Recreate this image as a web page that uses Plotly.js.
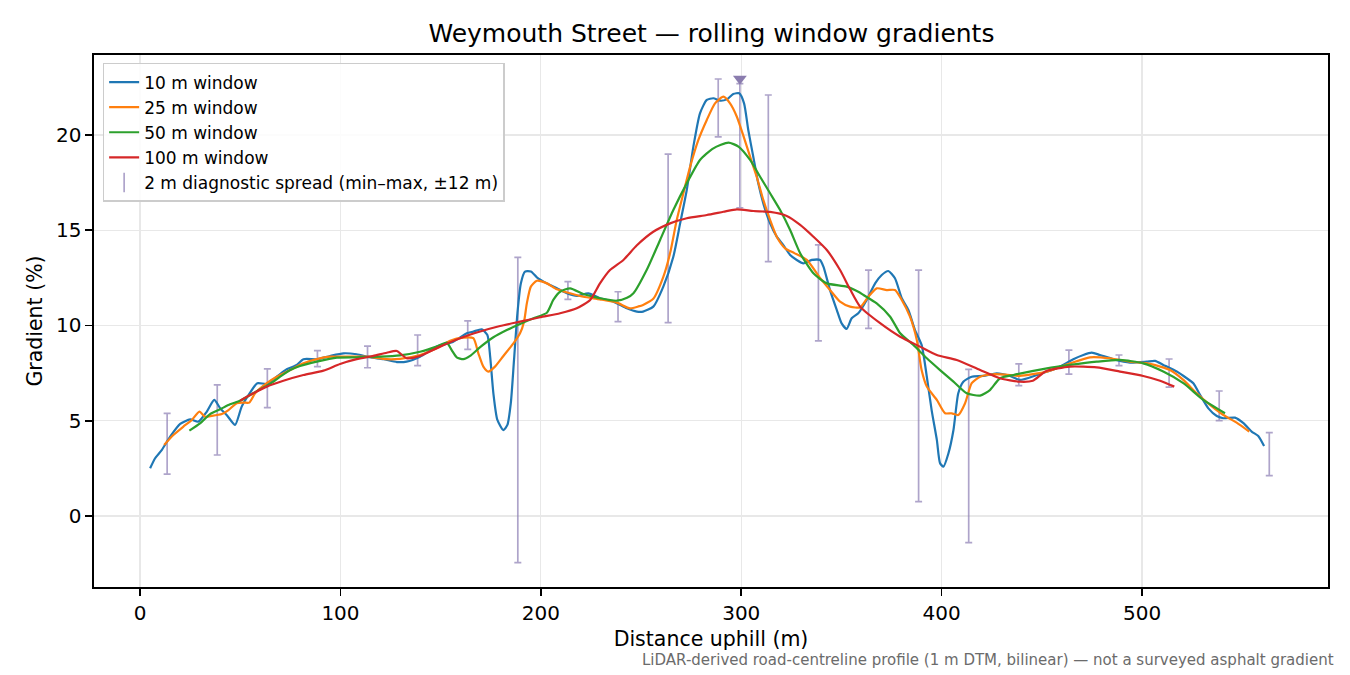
<!DOCTYPE html>
<html>
<head>
<meta charset="utf-8">
<script src="https://cdn.plot.ly/plotly-3.0.1.min.js"></script>
<style>
   html, body { margin: 0; padding: 0; background: #fff; }
   #canvas { width: 1350px; height: 675px; }
</style>
</head>
<body>
<div id="canvas"></div>
<script>

// ---------------------- data ----------------------

const dist10 = [5, 7.5, 10.8, 15, 20, 25, 29, 33.3, 37, 40, 43.6, 47.4, 50.7, 54.9, 58.5, 63.2, 68.2, 73.2, 78.2, 81.5,
   88.2, 94.8, 101.5, 108.1, 114.8, 121.4, 128.1, 133, 139.7, 148, 156.3, 163, 166.3, 170.5, 173.3, 174.7, 176.3, 178.3,
   181.3, 183.3, 185, 186.6, 188.3, 190, 192.1, 195, 198, 203, 208, 213, 218, 223.7, 229.5, 236.2, 242.9, 247.9, 251,
   256.1, 261.1, 266.1, 269.5, 272.8, 276.1, 279.4, 282.8, 286.1, 289.4, 292.8, 296, 299, 301.4, 303.5, 306, 308.5,
   311, 314.4, 317.7, 321, 324.4, 327.7, 331, 335.2, 339.3, 341, 344.3, 347.7, 350.1, 352.6, 355.1, 358.4, 362.6,
   366.8, 370.1, 373.4, 376.7, 380.1, 383.4, 386.7, 390, 392.6, 395, 397.6, 399.2, 400.9, 403.4, 405.9, 408.3, 410.8,
   415, 420.8, 427.5, 434.1, 439, 447.5, 457.4, 465.7, 470.7, 474.9, 479, 485.7, 494, 502.3, 506.5, 510.6, 517.3,
   522.3, 525.6, 529, 533.1, 537.3, 540.6, 546.4, 550.6, 554.7, 558, 560.9];
const grad10 = [2.5, 3.03, 3.46, 4.16, 4.83, 5.07, 4.95, 5.48, 6.09, 5.65, 5.25, 4.78, 5.74, 6.47, 6.97, 6.93, 7.31, 7.7, 7.93, 8.23,
   8.23, 8.4, 8.54, 8.49, 8.33, 8.23, 8.08, 8.1, 8.36, 8.89, 9.15, 9.59, 9.68, 9.8, 9.5, 8.36, 6.44, 5.04,
   4.51, 4.78, 5.92, 8.19, 10.64, 12.21, 12.83, 12.83, 12.53, 12.21, 11.95, 11.69, 11.55, 11.69, 11.43, 11.25, 10.9, 10.73, 10.73,
   10.99, 12.04, 13.61, 15.36, 17.11, 19.39, 21.14, 21.84, 21.93, 21.8, 21.87, 22.15, 22.19, 21.66, 20.26, 18.86, 17.46,
   16.41, 15.36, 14.66, 14.22, 13.7, 13.44, 13.26, 13.44, 13.44, 13.09, 11.86, 10.81, 10.11, 9.82, 10.38, 10.64, 11.34,
   12.21, 12.65, 12.86, 12.48, 11.43, 10.81, 9.76, 8.98, 7.31, 5.56, 3.99, 2.77, 2.59, 3.29, 4.51, 6.44, 7.05,
   7.31, 7.35, 7.49, 7.35, 7.14, 7.4, 7.75, 8.23, 8.45, 8.57, 8.45, 8.23, 8.05, 8.1, 8.14, 7.93, 7.58,
   7.23, 6.97, 6.35, 5.65, 5.25, 5.13, 5.16, 4.87, 4.43, 4.2, 3.67];

const dist25 = [12, 16.6, 21.6, 25.8, 29.6, 32.4, 35.8, 40.8, 44.1, 48.2, 51.6, 54.5, 57.4, 63.2, 68.2, 74.9, 81.5, 88.2, 94.8,
   103.1, 113.1, 123.1, 129.7, 139.7, 148, 154.7, 161.3, 166.3, 168.8, 171.3, 173.8, 177.1, 181.3, 186.3, 189.6, 191.6,
   193, 195, 198, 203, 208, 214.6, 221.2, 229.5, 237.9, 244.5, 248.7, 251, 256.1, 261.1, 264.5, 267.8, 271.1, 274.5,
   278.6, 282.8, 286.9, 291.1, 294.4, 297.8, 301.2, 304.4, 307.7, 311, 314.4, 317.7, 321.9, 326.5, 332.7, 339.3, 344.3,
   349.3, 354.3, 359.3, 363.4, 367.6, 372.6, 376.7, 380.1, 384.2, 387.6, 390, 392.6, 397.6, 401.7, 405, 408.3, 411.7,
   415, 419.2, 425.8, 434.1, 439, 452.5, 464.1, 474, 484, 494, 504, 514, 520.6, 527.3, 533.9, 540.6, 547.2, 553.5];
const grad25 = [3.73, 4.25, 4.69, 5.04, 5.48, 5.21, 5.25, 5.35, 5.56, 5.92, 5.95, 5.95, 6.44, 6.97, 7.31, 7.66, 8.01, 8.23, 8.36,
   8.36, 8.36, 8.23, 8.25, 8.45, 8.8, 9.2, 9.36, 9.33, 8.54, 7.84, 7.58, 7.84, 8.4, 9.06, 9.59, 10.2,
   11.16, 12.04, 12.35, 12.21, 11.9, 11.69, 11.51, 11.37, 11.2, 10.9, 11.0, 11.08, 11.4, 12.55, 13.8, 15.54, 16.94, 18.34,
   19.74, 20.79, 21.66, 22.01, 21.66, 20.96, 19.91, 18.86, 17.81, 16.59, 15.54, 14.66, 14.05, 13.8, 13.44, 12.5, 11.86,
   11.25, 10.99, 10.95, 11.51, 11.95, 11.86, 11.86, 11.34, 10.46, 9.24, 7.66, 6.79, 6.09, 5.39, 5.39, 5.3, 5.92,
   6.97, 7.31, 7.44, 7.4, 7.35, 7.58, 8.01, 8.33, 8.28, 8.1, 7.98, 7.66, 7.14, 6.44, 5.83, 5.3, 4.9, 4.43];

const dist50 = [24.6, 29.9, 34.9, 39.9, 44.9, 49.9, 54.9, 59.9, 64.9, 69.9, 74.9, 79.8, 88.2, 98.2, 108.1, 119.8, 129.7, 139.7,
   148, 153, 155.5, 158, 161.3, 164.7, 169.7, 176.3, 183, 189.6, 196.3, 203, 206.2, 209.6, 214.6, 221.2, 229.5, 237.9,
   243, 246.2, 252.8, 259.5, 266.1, 272.8, 279.4, 286.1, 293.6, 298.6, 304.4, 309.4, 314.4, 319.4, 324.4, 329.4, 336,
   342.7, 352.6, 358.4, 361, 367.6, 374.3, 379.3, 385.9, 392.6, 399.2, 405.9, 412.5, 419.2, 424.1, 429.1, 435.8, 452.5,
   464.1, 477.4, 489, 500.6, 510.6, 520.6, 530.6, 541.4];
const grad50 = [4.48, 4.86, 5.35, 5.6, 5.86, 6.05, 6.35, 6.65, 6.93, 7.31, 7.66, 7.87, 8.1, 8.31, 8.33, 8.36, 8.43, 8.62,
   8.89, 9.1, 8.71, 8.33, 8.23, 8.4, 8.86, 9.38, 9.76, 10.08, 10.38, 10.67, 11.34, 11.77, 11.95, 11.65, 11.43, 11.3,
   11.45, 11.69, 12.91, 14.49, 16.06, 17.46, 18.69, 19.3, 19.6, 19.39, 18.69, 17.81, 16.94, 16.06, 15.01, 13.79, 12.74,
   12.21, 12.04, 11.77, 11.6, 11.16, 10.46, 9.59, 8.98, 8.28, 7.66, 7.05, 6.44, 6.32, 6.61, 7.23, 7.4, 7.75,
   7.93, 8.1, 8.19, 8.01, 7.58, 6.97, 6.09, 5.39];

const dist100 = [49.9, 56.5, 63.2, 71.5, 81.5, 91.5, 99.8, 108.1, 116.4, 123.1, 128.1, 133, 139.7, 149.7, 159.7, 169.7, 179.6,
   189.6, 199.6, 209.6, 217.9, 224.6, 229.5, 234.5, 241.2, 247.8, 256.1, 264.5, 272.8, 282.8, 291.1, 297.8, 306, 314.4,
   322.7, 329.4, 336, 342.7, 349.3, 354.3, 359.3, 369.3, 379.3, 389.2, 397.6, 407.5, 419.2, 429.1, 439, 445.5, 452,
   464.1, 477.4, 489, 500.6, 509, 516.1];
const grad100 = [6.05, 6.44, 6.79, 7.1, 7.4, 7.63, 7.98, 8.23, 8.4, 8.57, 8.66, 8.28, 8.4, 8.89, 9.33, 9.68, 9.97,
   10.2, 10.43, 10.64, 10.9, 11.34, 12.21, 12.91, 13.44, 14.2, 14.92, 15.36, 15.63, 15.8, 15.97, 16.1, 16.01, 15.96,
   15.75, 15.28, 14.66, 13.96, 12.91, 11.9, 10.99, 10.12, 9.41, 8.89, 8.45, 8.19, 7.66, 7.23, 7.05, 7.1, 7.6,
   7.84, 7.8, 7.58, 7.35, 7.1, 6.79];

// 2 m diagnostic spread, min and max within +-12 m
const spreadX = [13.5, 38.5, 63.5, 88.5, 113.5, 138.5, 163.5, 188.5, 213.5, 238.5, 263.5, 288.5, 299.3, 313.5, 338.5,
   363.5, 388.5, 413.5, 438.5, 463.5, 488.5, 513.5, 538.5, 563.5];
const spreadMin = [2.2, 3.2, 5.69, 7.84, 7.78, 7.89, 8.75, -2.45, 11.37, 10.2, 10.15, 19.9, 16.18, 13.35, 9.19,
   9.85, 0.75, -1.4, 6.84, 7.45, 7.89, 6.76, 5.0, 2.12];
const spreadMax = [5.39, 6.88, 7.72, 8.68, 8.92, 9.5, 10.24, 13.58, 12.3, 11.77, 19.0, 22.94, 22.7, 22.1, 14.23,
   12.91, 12.91, 7.7, 7.98, 8.71, 8.45, 8.24, 6.56, 4.37];

const peakX = [299.3];
const peakY = [22.95];

const seriesNames = ['10 m window', '25 m window', '50 m window', '100 m window'];
const spreadName = '2 m diagnostic spread (min\u2013max, \u00b112 m)';

// ---------------------- chart ----------------------

const spreadColor = 'rgba(140,125,180,0.7)';

var traces = [{
   x: spreadX,
   y: spreadMin,
   mode: 'markers',
   marker: { size: 1, color: 'rgba(0,0,0,0)' },
   error_y: {
      type: 'data', symmetric: false,
      array: spreadMax.map((v, i) => v - spreadMin[i]),
      arrayminus: spreadMin.map(() => 0),
      color: spreadColor, thickness: 1.7, width: 3.5
   },
   showlegend: false, hoverinfo: 'skip'
}, {
   name: seriesNames[0], x: dist10, y: grad10, mode: 'lines',
   line: { color: '#1f77b4', width: 2.2, shape: 'spline', smoothing: 0.6 }
}, {
   name: seriesNames[1], x: dist25, y: grad25, mode: 'lines',
   line: { color: '#ff7f0e', width: 2.2, shape: 'spline', smoothing: 0.6 }
}, {
   name: seriesNames[2], x: dist50, y: grad50, mode: 'lines',
   line: { color: '#2ca02c', width: 2.2, shape: 'spline', smoothing: 0.6 }
}, {
   name: seriesNames[3], x: dist100, y: grad100, mode: 'lines',
   line: { color: '#d62728', width: 2.2, shape: 'spline', smoothing: 0.6 }
}, {
   // legend entry for the spread bars
   name: spreadName, x: [null], y: [null], mode: 'markers',
   marker: { symbol: 'line-ns-open', size: 14, color: spreadColor, line: { color: spreadColor, width: 1.7 } }
}, {
   x: peakX, y: peakY, mode: 'markers',
   marker: { symbol: 'triangle-down', size: 12, color: '#8a7cae' },
   showlegend: false, hoverinfo: 'skip'
}];

const axisCommon = {
   showline: true, mirror: true, linecolor: '#000', linewidth: 1.6,
   ticks: 'outside', ticklen: 7, tickwidth: 1.6, tickcolor: '#000',
   showgrid: true, gridcolor: '#e8e8e8', gridwidth: 1.2, zeroline: false,
   tickfont: { size: 20, color: '#000' }
};

const layout = {
   width: 1350, height: 675,
   paper_bgcolor: '#fff', plot_bgcolor: '#fff',
   font: { family: 'DejaVu Sans, sans-serif', color: '#000' },
   margin: { t: 55, b: 88, l: 94, r: 22 },
   title: {
      text: 'Weymouth Street \u2014 rolling window gradients',
      font: { size: 25 }, x: 0.527, xanchor: 'center', y: 0.951, yanchor: 'middle'
   },
   xaxis: {
      ...axisCommon, range: [-23, 592.8], tickvals: [0, 100, 200, 300, 400, 500],
      title: { text: 'Distance uphill (m)', font: { size: 20.5 }, standoff: 8 }
   },
   yaxis: {
      ...axisCommon, range: [-3.73, 24.2], tickvals: [0, 5, 10, 15, 20],
      title: { text: 'Gradient (%)', font: { size: 20.5 }, standoff: 8 }
   },
   legend: {
      x: 0.007, y: 0.985, xanchor: 'left', yanchor: 'top',
      bgcolor: 'rgba(255,255,255,0.85)', bordercolor: '#cccccc', borderwidth: 1.5,
      font: { size: 17 }, tracegroupgap: 0, itemwidth: 30
   },
   annotations: [{
      text: 'LiDAR-derived road-centreline profile (1 m DTM, bilinear) \u2014 not a surveyed asphalt gradient',
      xref: 'paper', yref: 'paper', x: 1.0065, y: -0.137, xanchor: 'right', yanchor: 'middle',
      showarrow: false, font: { size: 15, color: '#6b6b6b' }
   }],
   showlegend: true
};

Plotly.newPlot('canvas', traces, layout, { staticPlot: true });

</script>
</body>
</html>
